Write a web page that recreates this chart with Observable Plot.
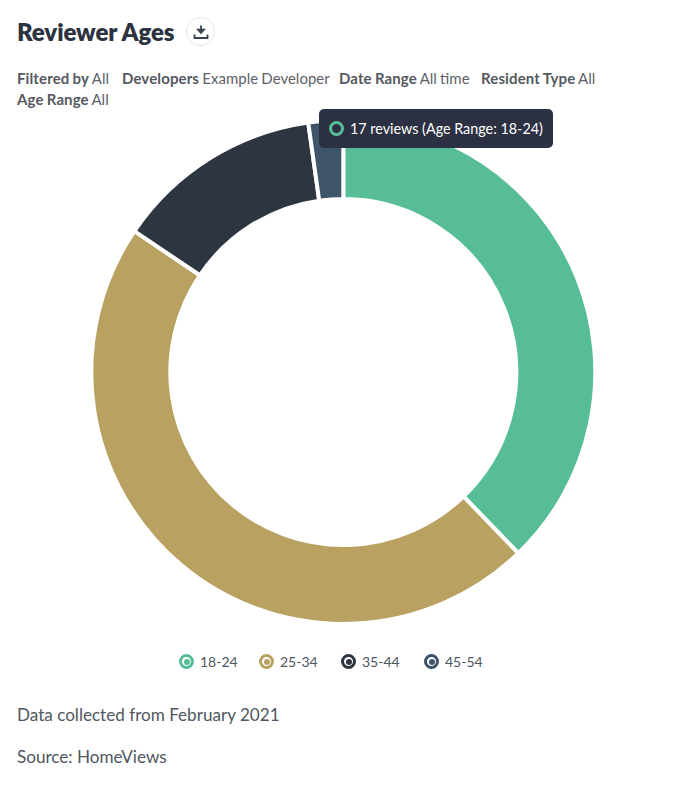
<!DOCTYPE html>
<html>
<head>
<meta charset="utf-8">
<script src="https://cdn.jsdelivr.net/npm/d3@7"></script>
<script src="https://cdn.jsdelivr.net/npm/@observablehq/plot@0.6"></script>
<style>
html,body{margin:0;padding:0;background:#fff}
body{width:688px;height:811px;position:relative;overflow:hidden;font-family:Lato,"Open Sans",sans-serif;-webkit-font-smoothing:antialiased}
.abs{position:absolute;white-space:nowrap}
#title{left:17px;top:17px;font-size:24px;line-height:30px;font-weight:800;color:#2b3240;letter-spacing:-.1px}
#dl{left:186px;top:17px;width:27px;height:27px;border:1.5px solid #e6e6e6;border-radius:50%;display:flex;align-items:center;justify-content:center}
.filter{font-size:15px;line-height:20px;color:#5d6269;word-spacing:-.6px}
.filter b{font-weight:700;color:#55595f;letter-spacing:.12px}
#chart{left:0;top:112px}
#tip{left:319px;top:109px;width:234px;height:39px;background:#2b3142;border-radius:5px;color:#fff;font-size:14.35px;line-height:39px;box-sizing:border-box;padding-left:31px}
#tip i{position:absolute;left:10px;top:12px;width:15px;height:15px;box-sizing:border-box;border:3px solid #57bd97;border-radius:50%}
#legend{left:0;top:651px;width:688px;height:22px}
.lg{position:absolute;top:0;font-size:14px;line-height:21px;color:#4f5663;padding-left:21px}
.lg i{position:absolute;left:0;top:3px;width:15px;height:15px;box-sizing:border-box;border-radius:50%;border:3px solid;background:#fff}
.lg i:after{content:"";position:absolute;left:1.5px;top:1.5px;width:6px;height:6px;border-radius:50%;background:currentColor}
.note{left:17px;font-size:17.1px;line-height:22px;color:#50565f}
</style>
</head>
<body>
<div class="abs" id="title">Reviewer Ages</div>
<div class="abs" id="dl"><svg width="16" height="16" viewBox="0 0 16 16"><path d="M8 1.5v6M5 5.6 8 9l3-3.4z" stroke="#3a4150" stroke-width="1.8" fill="#3a4150"/><path d="M1.5 10.5v3.5h13v-3.5" stroke="#3a4150" stroke-width="1.8" fill="none"/></svg></div>
<div class="abs filter" style="left:17px;top:68px"><b>Filtered by</b> All</div>
<div class="abs filter" style="left:122px;top:68px"><b>Developers</b> Example Developer</div>
<div class="abs filter" style="left:339px;top:68px"><b>Date Range</b> All time</div>
<div class="abs filter" style="left:481px;top:68px"><b>Resident Type</b> All</div>
<div class="abs filter" style="left:17px;top:89px"><b>Age Range</b> All</div>
<div class="abs" id="chart"></div>
<div class="abs" id="tip"><i></i><span id="tiptext"></span></div>
<div class="abs" id="legend"></div>
<div class="abs note" style="top:704px">Data collected from February 2021</div>
<div class="abs note" style="top:746px">Source: HomeViews</div>
<script>
const ageRanges = ["18-24", "25-34", "35-44", "45-54"];
const reviewCounts = [17, 21, 6, 1];
const sliceColors = ["#57bd97", "#b8a161", "#2d3540", "#3e5469"];
const legendLefts = [179, 259, 341, 424];

const rows = ageRanges.map((age, i) => ({age, reviews: reviewCounts[i]}));
const total = d3.sum(reviewCounts);
const outerR = 252, innerR = 173;

function arcRender(index, scales, values, dimensions) {
  const arc = d3.arc().innerRadius(innerR).outerRadius(outerR);
  const g = d3.create("svg:g")
    .attr("transform", `translate(${dimensions.width / 2 - 0.7},${dimensions.height / 2})`);
  g.selectAll("path").data(index).join("path")
    .attr("d", i => arc({startAngle: values.x1[i], endAngle: values.x2[i]}))
    .attr("fill", i => values.fill[i])
    .attr("stroke", "#fff")
    .attr("stroke-width", 4);
  return g.node();
}

const chart = Plot.plot({
  width: 688,
  height: 520,
  margin: 0,
  x: {domain: [0, total], range: [0, 2 * Math.PI], axis: null},
  color: {domain: ageRanges, range: sliceColors},
  marks: [
    Plot.barX(rows, Plot.stackX({x: "reviews", fill: "age", order: null, render: arcRender}))
  ]
});
document.getElementById("chart").append(chart);

document.getElementById("tiptext").textContent = `${reviewCounts[0]} reviews (Age Range: ${ageRanges[0]})`;
const legend = document.getElementById("legend");
ageRanges.forEach((a, i) => {
  const d = document.createElement("div");
  d.className = "lg";
  d.style.left = legendLefts[i] + "px";
  d.innerHTML = `<i style="color:${sliceColors[i]};border-color:${sliceColors[i]}"></i>${a}`;
  legend.append(d);
});
</script>
</body>
</html>
